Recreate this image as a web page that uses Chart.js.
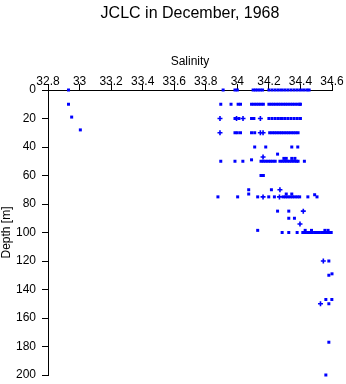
<!DOCTYPE html>
<html>
<head>
<meta charset="utf-8">
<script src="https://cdn.jsdelivr.net/npm/chart.js@4"></script>
<style>
  html, body { margin: 0; padding: 0; background: #fff; }
</style>
</head>
<body>
<canvas id="chart" width="346" height="384"></canvas>
<script>
const chartTitle = "JCLC in December, 1968";
const salinityTicks = [32.8, 33, 33.2, 33.4, 33.6, 33.8, 34, 34.2, 34.4, 34.6];
const depthTicks = [0, 20, 40, 60, 80, 100, 120, 140, 160, 180, 200];

// salinity readings at the standard sampling depths
const rowDepths = [0, 10, 20, 30, 40, 50, 75, 100];
const sal0 = [32.93, 33.91, 33.985, 34.0, 34.1, 34.115, 34.13, 34.145, 34.16, 34.2, 34.22, 34.24, 34.26, 34.28, 34.3, 34.32, 34.34, 34.36, 34.38, 34.4, 34.42, 34.44, 34.455];
const sal10 = [32.93, 33.895, 33.96, 34.005, 34.02, 34.09, 34.105, 34.12, 34.135, 34.15, 34.165, 34.2, 34.215, 34.23, 34.245, 34.26, 34.275, 34.29, 34.305, 34.32, 34.335, 34.35, 34.365, 34.38, 34.395, 34.4];
const sal20 = [33.985, 34.01, 34.09, 34.105, 34.2, 34.22, 34.24, 34.26, 34.28, 34.3, 34.32, 34.34, 34.36, 34.38, 34.4];
const sal30 = [33.985, 34.0, 34.02, 34.09, 34.11, 34.205, 34.22, 34.235, 34.25, 34.265, 34.28, 34.295, 34.31, 34.325, 34.34, 34.355, 34.37, 34.385];
const sal40 = [34.11, 34.18, 34.345, 34.383];
const sal50 = [33.895, 33.985, 34.035, 34.15, 34.165, 34.18, 34.195, 34.21, 34.225, 34.24, 34.27, 34.285, 34.3, 34.315, 34.33, 34.345, 34.36, 34.375, 34.385, 34.425];
const sal75 = [33.877, 34.002, 34.129, 34.199, 34.235, 34.29, 34.305, 34.32, 34.335, 34.35, 34.365, 34.38, 34.395, 34.447, 34.505];
const sal100 = [34.284, 34.326, 34.379, 34.415, 34.43, 34.445, 34.46, 34.475, 34.49, 34.505, 34.52, 34.535, 34.55, 34.565, 34.58, 34.595];
const rowSalinity = [sal0, sal10, sal20, sal30, sal40, sal50, sal75, sal100];

// readings between the standard depths
const otherSal = [32.95, 33.005, 34.09, 34.295, 34.31, 34.345, 34.365, 34.255, 34.15, 34.165, 34.072, 34.216, 34.072, 34.31, 34.345, 34.49, 34.255, 34.326, 34.326, 34.362, 34.129, 34.43, 34.47, 34.555, 34.575, 34.58, 34.58, 34.6, 34.561, 34.599, 34.58, 34.58, 34.561];
const otherDepth = [19, 28, 49, 48, 48, 48, 48, 45, 60, 60, 70, 70, 73, 73, 73, 73.5, 85, 85, 90, 90, 98.5, 98.5, 98.5, 98.5, 98.5, 120, 130, 129, 147, 147, 150, 177, 200];

// overlapping readings, drawn as small crosses
const crossSal = [33.89, 33.995, 34.036, 34.146, 33.89, 34.146, 34.163, 34.163, 34.27, 34.163, 34.267, 34.418, 34.397, 34.545, 34.527];
const crossDepth = [20, 20, 20, 20, 30, 30, 30, 47, 70, 75, 75, 85, 94, 120, 150];

const points = [];
rowDepths.forEach((d, i) => {
  rowSalinity[i].forEach(s => points.push({ x: s, y: d }));
});
otherSal.forEach((s, i) => points.push({ x: s, y: otherDepth[i] }));
const crosses = crossSal.map((s, i) => ({ x: s, y: crossDepth[i] }));

const font = { family: '"Liberation Sans", Arial, sans-serif', size: 12 };

new Chart(document.getElementById("chart"), {
  type: "scatter",
  data: {
    datasets: [
      {
        data: points,
        pointStyle: "rect",
        pointRadius: 2.12,
        backgroundColor: "#0000ff",
        borderWidth: 0,
        clip: false
      },
      {
        data: crosses,
        pointStyle: "cross",
        pointRadius: 2.5,
        borderColor: "#0000ff",
        borderWidth: 1.6,
        clip: false
      }
    ]
  },
  options: {
    responsive: false,
    animation: false,
    events: [],
    layout: { padding: { left: 0, right: 14, top: 0, bottom: 9 } },
    plugins: {
      legend: { display: false },
      tooltip: { enabled: false },
      title: {
        display: true,
        text: chartTitle,
        fullSize: false,
        color: "#000",
        font: { family: font.family, size: 16, weight: "normal" },
        padding: { top: 4, bottom: 0 }
      }
    },
    scales: {
      x: {
        type: "linear",
        position: "top",
        min: 32.8,
        max: 34.6,
        afterBuildTicks: s => { s.ticks = salinityTicks.map(v => ({ value: v })); },
        afterFit: s => { s.height = 66.8; },
        ticks: { color: "#000", font, padding: -5, maxRotation: 0, autoSkip: false, callback: v => String(v) },
        grid: { drawOnChartArea: false, drawTicks: true, tickLength: 6, color: "#000" },
        border: { color: "#000" },
        title: { display: true, text: "Salinity", color: "#000", font, padding: { top: 30.8, bottom: 0 } }
      },
      y: {
        type: "linear",
        reverse: true,
        min: 0,
        max: 200,
        afterBuildTicks: s => { s.ticks = depthTicks.map(v => ({ value: v })); },
        afterFit: s => { s.width = 48; s.paddingTop = 0; s.paddingBottom = 0; },
        ticks: { color: "#000", font, padding: 6, autoSkip: false, callback: v => String(v) },
        grid: { drawOnChartArea: false, drawTicks: true, tickLength: 6, color: "#000" },
        border: { color: "#000" },
        title: { display: true, text: "Depth [m]", color: "#000", font, padding: { top: -1, bottom: 0 } }
      }
    }
  }
});
</script>
</body>
</html>
